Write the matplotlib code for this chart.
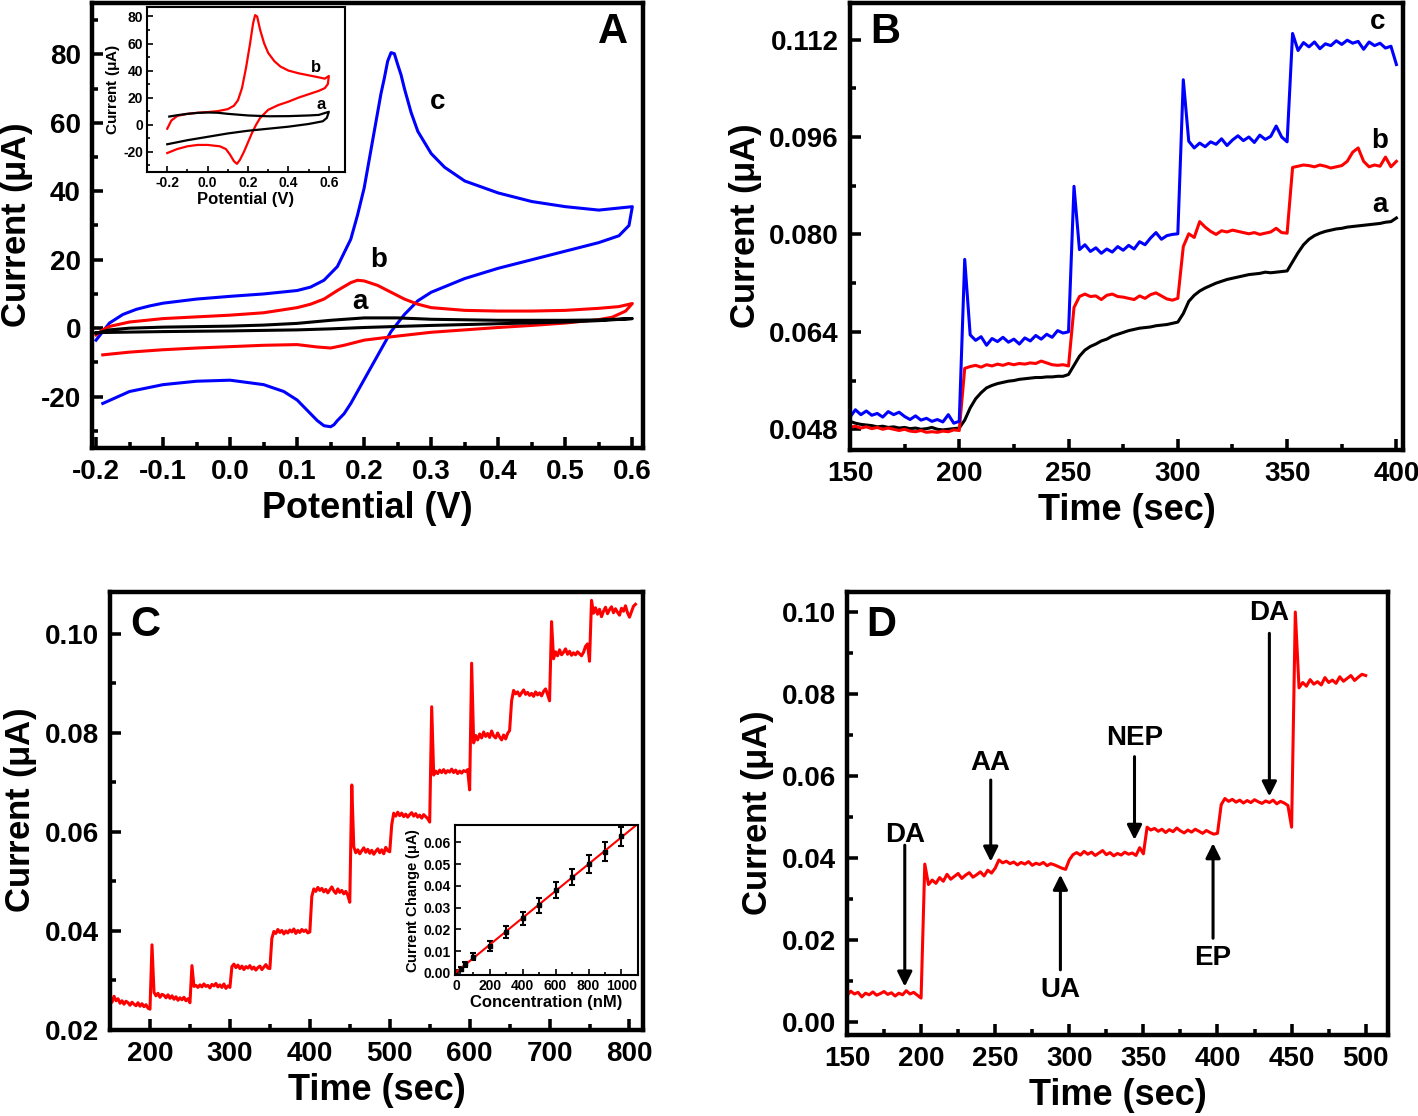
import numpy as np
import matplotlib
matplotlib.use('Agg')
import matplotlib.pyplot as plt
from matplotlib.ticker import MultipleLocator, FormatStrFormatter

plt.rcParams['font.family'] = ['Liberation Sans', 'DejaVu Sans']
plt.rcParams['font.weight'] = 'bold'
plt.rcParams['axes.labelweight'] = 'bold'
plt.rcParams['axes.unicode_minus'] = False
plt.rcParams['mathtext.fontset'] = 'custom'
plt.rcParams['mathtext.rm'] = 'Liberation Sans'

# ---------------- panel A : cyclic voltammograms (uA) ----------------
# c (blue)
c_fwd_E = [-0.2, -0.19, -0.18, -0.16, -0.14, -0.12, -0.1, -0.05, 0.0, 0.05, 0.1, 0.12, 0.14, 0.16, 0.18,
           0.19, 0.2, 0.21, 0.215, 0.22, 0.225, 0.23, 0.235, 0.24, 0.245, 0.25, 0.255, 0.26, 0.265, 0.27,
           0.28, 0.3, 0.32, 0.35, 0.4, 0.45, 0.5, 0.55, 0.6]
c_fwd_I = [-3.5, -1, 1.5, 4, 5.5, 6.5, 7.3, 8.5, 9.3, 10, 11, 12, 14, 18, 26,
           33, 41, 52, 57.5, 63, 68.5, 73, 78, 80.5, 80.2, 77, 74, 70, 66.5, 63,
           57.5, 51, 47, 43, 39.5, 37, 35.5, 34.5, 35.5]
c_rev_E = [0.6, 0.595, 0.58, 0.55, 0.5, 0.45, 0.4, 0.35, 0.3, 0.28, 0.26, 0.24, 0.22, 0.2, 0.18,
           0.17, 0.16, 0.155, 0.15, 0.14, 0.13, 0.12, 0.1, 0.08, 0.05, 0.0, -0.05, -0.1, -0.15, -0.19]
c_rev_I = [35.5, 30, 27, 25, 22.5, 20, 17.5, 14.5, 10.5, 8, 4, -1, -8, -15, -22,
           -25, -27, -28.2, -28.8, -28.5, -27, -25, -21, -18.5, -16.5, -15.2, -15.5, -16.5, -18.5, -22]
# b (red)
b_fwd_E = [-0.2, -0.19, -0.18, -0.15, -0.1, -0.05, 0.0, 0.05, 0.1, 0.12, 0.14, 0.16, 0.18, 0.19,
           0.2, 0.22, 0.24, 0.26, 0.28, 0.3, 0.35, 0.4, 0.45, 0.5, 0.55, 0.58, 0.6]
b_fwd_I = [-2, -0.5, 0.5, 1.8, 2.8, 3.3, 3.8, 4.5, 6, 7, 8.5, 11, 13.3, 14,
           13.8, 12.5, 10.5, 8.5, 7, 6, 5.2, 5, 5, 5.2, 5.8, 6.3, 7.2]
b_rev_E = [0.6, 0.59, 0.57, 0.55, 0.5, 0.45, 0.4, 0.35, 0.3, 0.25, 0.2, 0.17, 0.15, 0.13, 0.1,
           0.05, 0.0, -0.05, -0.1, -0.15, -0.19]
b_rev_I = [7.2, 5, 3.2, 2.5, 1.5, 0.8, 0.2, -0.5, -1.2, -2.3, -3.5, -5, -5.8, -5.5, -4.8,
           -5, -5.4, -5.8, -6.3, -7, -7.8]
# a (black)
a_fwd_E = [-0.2, -0.18, -0.15, -0.1, 0.0, 0.05, 0.1, 0.15, 0.2, 0.25, 0.3, 0.4, 0.5, 0.55, 0.6]
a_fwd_I = [-1.5, -0.5, 0, 0.3, 0.6, 0.9, 1.4, 2.3, 3, 3, 2.6, 2.3, 2.3, 2.4, 2.8]
a_rev_E = [0.6, 0.55, 0.5, 0.4, 0.3, 0.2, 0.15, 0.1, 0.0, -0.1, -0.2]
a_rev_I = [2.8, 2.2, 1.8, 1.3, 0.8, 0.2, -0.2, -0.5, -0.8, -1, -1.3]

# inset of A
ib_fwd_E = [-0.2, -0.18, -0.15, -0.1, -0.05, 0.0, 0.05, 0.1, 0.13, 0.15, 0.17, 0.19, 0.21, 0.225,
            0.235, 0.245, 0.26, 0.28, 0.3, 0.33, 0.36, 0.4, 0.45, 0.5, 0.55, 0.58, 0.6]
ib_fwd_I = [-3, 3, 6.5, 8, 8.8, 9.3, 10, 11.5, 14, 18, 27, 42, 60, 75,
            81, 80, 70, 60, 53, 47, 43, 40, 38, 36.5, 35, 34, 36]
ib_rev_E = [0.6, 0.595, 0.58, 0.55, 0.5, 0.45, 0.4, 0.35, 0.3, 0.26, 0.24, 0.22, 0.2, 0.18, 0.16,
            0.145, 0.13, 0.11, 0.09, 0.06, 0.0, -0.05, -0.1, -0.15, -0.2]
ib_rev_I = [36, 30, 27, 25, 22.5, 20, 17, 14.5, 11, 5, 0, -6, -13, -20, -26,
            -29, -27, -22, -18, -16, -15, -15, -16, -18, -21]
ia_fwd_E = [-0.19, -0.15, -0.1, -0.05, 0.0, 0.05, 0.1, 0.2, 0.3, 0.4, 0.5, 0.55, 0.6]
ia_fwd_I = [6, 7, 8, 8.7, 9, 8.8, 8, 6.8, 6.2, 6.3, 6.8, 7.2, 9.5]
ia_rev_E = [0.6, 0.59, 0.57, 0.5, 0.4, 0.3, 0.2, 0.1, 0.0, -0.1, -0.2]
ia_rev_I = [9.5, 5, 2.5, 0.5, -1.5, -3, -4.5, -6.5, -9, -11.5, -14.5]

# ---------------- panel B : amperometric traces (x1e-3 uA), 2.5 s sampling ----------------
b_time = np.arange(150, 400.1, 2.5)
trace_c = [50.0, 51.2, 50.4, 51.0, 50.3, 50.6, 50.0, 50.9, 50.4, 50.8, 50.1, 49.6, 50.2, 49.5, 49.8, 49.3, 49.6, 49.2, 50.4, 49.0,
           49.3, 75.9, 63.5, 62.6, 63.2, 61.8, 62.9, 62.4, 63.1, 62.3, 62.8, 62.0, 63.0, 62.5, 63.4, 62.8, 63.6, 63.1, 64.2, 63.8,
           64.0, 87.9, 77.5, 78.3, 77.2, 77.8, 76.9, 77.6, 77.1, 78.0, 77.4, 78.2, 77.6, 78.8, 78.3, 79.4, 80.3, 79.2, 79.8, 80.0,
           80.1, 105.4, 95.3, 94.2, 95.0, 94.4, 95.2, 94.8, 95.7, 94.6, 95.5, 96.2, 95.4, 96.0, 95.1, 96.3, 95.6, 96.1, 97.8, 96.0,
           95.2, 113.0, 110.2, 111.5, 110.8, 111.6, 110.5, 111.3, 111.0, 111.8, 111.2, 111.9, 111.4, 111.7, 110.4, 111.6, 111.0, 111.4, 110.6, 110.9,
           107.9]
trace_b = [48.3, 48.5, 48.2, 48.4, 48.1, 48.3, 48.0, 48.2, 48.0, 47.8, 48.0, 47.7, 47.6, 47.8, 47.5, 47.6, 47.5, 47.7, 47.6, 47.9,
           47.8, 58.0, 58.3, 58.5, 58.2, 58.6, 58.4, 58.7, 58.5, 58.8, 58.6, 58.8, 58.7, 58.9, 58.8, 59.2, 58.9, 58.6, 58.5, 58.6,
           58.4, 68.0, 69.8, 70.2, 69.8, 69.9, 69.3, 70.0, 70.2, 69.8, 69.7, 69.5, 69.3, 69.9, 69.5, 70.1, 70.4, 69.9, 69.4, 69.2,
           69.5, 78.0, 80.1, 79.5, 82.1, 81.2, 80.5, 80.0, 80.6, 80.4, 80.7, 80.5, 80.3, 80.1, 80.3, 80.0, 80.2, 80.4, 81.0, 80.3,
           80.2, 91.0, 91.2, 91.4, 91.3, 91.1, 91.4, 91.2, 90.9, 91.1, 91.3, 92.0, 93.5, 94.2, 92.0, 91.1, 91.4, 91.2, 92.7, 91.1,
           92.0]
trace_a = [49.3, 49.0, 48.8, 48.7, 48.6, 48.4, 48.5, 48.3, 48.4, 48.2, 48.3, 48.1, 48.2, 48.0, 48.1, 48.3, 48.0, 47.9, 48.0, 48.1,
           48.2, 49.5, 51.5, 53.0, 54.0, 54.8, 55.2, 55.5, 55.7, 55.9, 56.0, 56.2, 56.3, 56.4, 56.5, 56.5, 56.6, 56.6, 56.7, 56.7,
           57.0, 58.5, 60.0, 61.0, 61.6, 62.0, 62.5, 62.8, 63.3, 63.6, 63.9, 64.2, 64.4, 64.6, 64.7, 64.8, 65.0, 65.1, 65.2, 65.4,
           65.6, 67.0, 69.0, 70.0, 70.7, 71.2, 71.6, 72.0, 72.3, 72.6, 72.8, 73.0, 73.2, 73.4, 73.5, 73.6, 73.8, 73.7, 73.8, 73.9,
           74.0, 75.5, 77.0, 78.3, 79.2, 79.8, 80.2, 80.5, 80.7, 80.9, 81.0, 81.2, 81.3, 81.4, 81.5, 81.6, 81.7, 81.8, 82.0, 82.1,
           82.7]

# ---------------- panel C : successive additions (x1e-3 uA) ----------------
c_time = np.arange(150, 808, 2.5)
c_current = [26.0, 25.6, 26.8, 25.9, 26.3, 25.4, 25.9, 25.2, 25.8, 25.5, 25.0, 25.6, 25.2, 24.9, 25.5, 24.8, 25.3, 24.7, 25.1, 24.4,
             24.2, 37.2, 27.6, 26.9, 27.4, 26.6, 27.2, 27.0, 26.5, 27.1, 26.4, 26.9, 26.2, 26.7, 26.0, 26.5, 26.1, 26.6, 25.9, 26.3,
             25.5, 33.0, 28.8, 29.0, 28.6, 29.1, 28.7, 29.3, 28.8, 29.0, 28.5, 29.2, 28.9, 29.4, 28.7, 29.1, 28.6, 29.3, 28.4, 28.9,
             28.6, 32.8, 33.3, 32.6, 33.1, 32.4, 32.9, 32.2, 32.8, 32.5, 33.0, 32.3, 32.7, 32.1, 32.6, 32.9, 32.2, 32.7, 33.2, 32.5,
             32.4, 38.5, 39.9, 39.5, 40.3, 39.7, 40.1, 39.4, 40.0, 39.6, 40.2, 39.8, 40.4, 39.5, 40.1, 39.7, 40.3, 39.9, 40.2, 39.6,
             39.8, 47.0, 48.5, 48.0, 48.8, 48.2, 48.6, 47.9, 48.4, 47.7, 48.3, 48.9, 48.1, 47.6, 48.5, 47.8, 48.2, 47.5, 48.0, 47.2,
             45.8, 69.5, 57.0, 55.8, 56.4, 55.6, 56.2, 56.8, 55.9, 56.5, 55.7, 56.3, 55.5, 56.1, 56.6, 55.8, 56.4, 55.6, 56.9, 56.2,
             56.0, 61.5, 63.8, 63.2, 64.0, 63.3, 63.8, 63.1, 63.6, 63.0, 63.5, 63.9, 63.2, 63.7, 63.0, 63.4, 62.8, 63.5, 63.1, 62.7,
             62.0, 85.3, 71.5, 72.3, 71.8, 72.5, 72.0, 72.6, 71.9, 72.4, 72.1, 72.7, 72.0, 72.5, 71.8, 72.3, 71.9, 72.4, 72.2, 72.6,
             68.5, 94.1, 78.0, 79.5, 78.6, 79.8, 79.0, 80.2, 79.3, 79.9, 79.1, 80.4, 79.4, 79.0, 80.0, 79.2, 78.6, 79.6, 78.8, 79.9,
             80.5, 86.5, 88.6, 87.9, 88.3, 87.5, 88.1, 88.7, 87.8, 88.2, 87.6, 88.0, 87.4, 88.3, 87.7, 88.1, 87.5, 88.4, 88.9, 87.8,
             86.5, 102.5, 95.0, 96.4, 95.6, 96.8, 95.8, 96.3, 97.0, 95.9, 96.5, 95.7, 96.2, 95.8, 96.4, 96.0, 95.6, 96.3, 97.5, 98.0,
             94.5, 106.8, 104.2, 105.3, 104.0, 105.0, 103.5, 104.6, 105.4, 104.1, 104.9, 105.5, 104.3, 105.1, 104.4, 103.8, 105.2, 104.6, 105.7, 104.3,
             103.4, 104.5, 105.6, 106.0]

# calibration inset
conc_nM = [25, 50, 100, 200, 300, 400, 500, 600, 700, 800, 900, 1000]
delta_I = [0.0019, 0.0039, 0.0075, 0.0124, 0.0189, 0.0251, 0.031, 0.038, 0.0442, 0.05, 0.0558, 0.0628]
delta_err = [0.001, 0.0012, 0.0018, 0.0022, 0.0028, 0.003, 0.0036, 0.0036, 0.0038, 0.004, 0.0045, 0.0045]

# ---------------- panel D : interference test (x1e-3 uA) ----------------
d_time = np.arange(150, 500.1, 2.5)
d_current = [6.4, 7.5, 6.8, 7.2, 6.1, 7.0, 6.6, 7.3, 6.5, 6.9, 7.4, 6.7, 7.1, 6.3, 7.0, 6.6, 7.6, 6.8, 7.2, 6.5,
             5.8, 38.5, 33.5, 34.6, 33.8, 35.2, 34.3, 36.0, 34.8, 35.5, 36.2, 35.0, 35.8, 36.4, 35.3, 35.9, 36.6, 35.6, 37.0, 36.3,
             37.5, 39.5, 38.8, 39.2, 38.6, 39.0, 38.3, 38.9, 38.5, 39.1, 38.2, 38.7, 38.4, 38.9, 38.1, 38.6, 38.3, 37.9, 37.5, 37.2,
             39.5, 40.8, 41.3, 40.7, 41.6, 40.9, 41.4, 40.6, 41.2, 41.8, 40.8, 41.3, 40.5, 41.1, 40.7, 41.4, 40.9, 41.2, 40.6, 42.5,
             41.0, 47.5, 46.8, 47.2, 46.5, 47.0, 46.2, 46.9, 46.4, 47.3, 46.6, 46.1, 46.8, 46.3, 47.0, 46.5, 46.0, 46.7, 46.2, 45.8,
             46.0, 53.0, 54.5, 53.8, 54.3, 53.6, 54.1, 53.4, 54.0, 53.5, 54.2, 53.7, 53.3, 53.9, 53.5, 54.1, 53.2, 53.8, 53.4, 52.8,
             47.5, 100.0, 81.5, 82.8, 81.9, 83.5, 82.4, 83.0, 82.2, 84.0, 82.8, 83.4, 82.6, 84.2, 83.1, 83.8, 84.5, 83.3, 84.1, 84.8,
             84.5]
# analyte labels: name, arrow time, text y, arrow tail y, arrow tip y
d_labels = ['DA', 'AA', 'UA', 'NEP', 'EP', 'DA']
d_label_t = [189, 247, 294, 344, 397, 435]
d_text_y = [0.0456, 0.0631, 0.0078, 0.0692, 0.0155, 0.0997]
d_tail_y = [0.0431, 0.0590, 0.0127, 0.0647, 0.0204, 0.0948]
d_tip_y = [0.0086, 0.0391, 0.0359, 0.0444, 0.0436, 0.0550]

ylab = 'Current $\\mathrm{(\u03bcA)}$'


def style(ax, fs=20, lw=3.2, major=8, minor=4.5, pad=8):
    for s in ax.spines.values():
        s.set_linewidth(lw)
    ax.tick_params(which='both', direction='in', top=False, right=False, width=lw * 0.8)
    ax.tick_params(which='major', length=major, labelsize=fs, pad=pad)
    ax.tick_params(which='minor', length=minor)


fig = plt.figure(figsize=(14.18, 11.16), dpi=100)

# ---- A ----
axA = fig.add_axes([0.0649, 0.5986, 0.3886, 0.3987])
axA.plot(c_fwd_E + c_rev_E, c_fwd_I + c_rev_I, color='#0000ff', lw=2.2)
axA.plot(b_fwd_E + b_rev_E, b_fwd_I + b_rev_I, color='#ff0000', lw=2.2)
axA.plot(a_fwd_E + a_rev_E, a_fwd_I + a_rev_I, color='black', lw=2.2)
axA.set_xlim(-0.206, 0.616)
axA.set_ylim(-35, 95)
axA.xaxis.set_major_locator(MultipleLocator(0.1))
axA.xaxis.set_minor_locator(MultipleLocator(0.05))
axA.xaxis.set_major_formatter(FormatStrFormatter('%.1f'))
axA.yaxis.set_major_locator(MultipleLocator(20))
axA.yaxis.set_minor_locator(MultipleLocator(10))
style(axA)
axA.set_xlabel('Potential (V)', fontsize=26)
axA.set_ylabel(ylab, fontsize=25)
axA.text(0.309, 66, 'c', fontsize=20, fontweight='bold', ha='center', va='center')
axA.text(0.221, 20, 'b', fontsize=20, fontweight='bold', ha='center', va='center')
axA.text(0.194, 7.5, 'a', fontsize=20, fontweight='bold', ha='center', va='center')
axA.text(0.946, 0.935, 'A', transform=axA.transAxes, fontsize=30, fontweight='bold', ha='center', va='center')

inA = fig.add_axes([0.1037, 0.8459, 0.1396, 0.1478])
inA.plot(ib_fwd_E + ib_rev_E, ib_fwd_I + ib_rev_I, color='#ff0000', lw=1.6)
inA.plot(ia_fwd_E + ia_rev_E, ia_fwd_I + ia_rev_I, color='black', lw=1.6)
inA.set_xlim(-0.3, 0.68)
inA.set_ylim(-35, 87)
inA.xaxis.set_major_locator(MultipleLocator(0.2))
inA.xaxis.set_minor_locator(MultipleLocator(0.1))
inA.xaxis.set_major_formatter(FormatStrFormatter('%.1f'))
inA.yaxis.set_major_locator(MultipleLocator(20))
inA.yaxis.set_minor_locator(MultipleLocator(10))
style(inA, fs=10, lw=1.5, major=4, minor=2.5, pad=3)
inA.set_xlabel('Potential (V)', fontsize=12, labelpad=1)
inA.set_ylabel(ylab, fontsize=11, labelpad=1)
inA.text(0.535, 42, 'b', fontsize=12, fontweight='bold', ha='center', va='center')
inA.text(0.56, 14.8, 'a', fontsize=12, fontweight='bold', ha='center', va='center')

# ---- B ----
axB = fig.add_axes([0.5994, 0.5968, 0.39, 0.4005])
axB.plot(b_time, np.array(trace_a) / 1000, color='black', lw=2.2)
axB.plot(b_time, np.array(trace_b) / 1000, color='#ff0000', lw=2.2)
axB.plot(b_time, np.array(trace_c) / 1000, color='#0000ff', lw=2.2)
axB.set_xlim(150, 403)
axB.set_ylim(0.0446, 0.118)
axB.xaxis.set_major_locator(MultipleLocator(50))
axB.xaxis.set_minor_locator(MultipleLocator(25))
axB.yaxis.set_major_locator(MultipleLocator(0.016))
axB.yaxis.set_minor_locator(MultipleLocator(0.008))
axB.yaxis.set_major_formatter(FormatStrFormatter('%.3f'))
style(axB)
axB.set_xlabel('Time (sec)', fontsize=26)
axB.set_ylabel(ylab, fontsize=25)
axB.text(391.5, 0.1148, 'c', fontsize=20, fontweight='bold', ha='center', va='center')
axB.text(392.3, 0.0953, 'b', fontsize=20, fontweight='bold', ha='center', va='center')
axB.text(392.3, 0.0849, 'a', fontsize=20, fontweight='bold', ha='center', va='center')
axB.text(0.063, 0.935, 'B', transform=axB.transAxes, fontsize=30, fontweight='bold', ha='center', va='center')

# ---- C ----
axC = fig.add_axes([0.0776, 0.0771, 0.3759, 0.3925])
axC.plot(c_time, np.array(c_current) / 1000, color='#ff0000', lw=2.2)
axC.set_xlim(150, 817)
axC.set_ylim(0.02, 0.1085)
axC.xaxis.set_major_locator(MultipleLocator(100))
axC.xaxis.set_minor_locator(MultipleLocator(50))
axC.yaxis.set_major_locator(MultipleLocator(0.02))
axC.yaxis.set_minor_locator(MultipleLocator(0.01))
axC.yaxis.set_major_formatter(FormatStrFormatter('%.2f'))
style(axC)
axC.set_xlabel('Time (sec)', fontsize=26)
axC.set_ylabel(ylab, fontsize=25)
axC.text(0.066, 0.925, 'C', transform=axC.transAxes, fontsize=30, fontweight='bold', ha='center', va='center')

inC = fig.add_axes([0.3209, 0.1263, 0.129, 0.1344])
inC.errorbar(conc_nM, delta_I, yerr=delta_err, fmt='s', color='black', ms=2.5, elinewidth=1.5, capsize=2.5, capthick=1.5)
slope, icpt = np.polyfit(conc_nM, delta_I, 1)
fit_x = np.array([0, 1100])
inC.plot(fit_x, slope * fit_x + icpt, color='#ff0000', lw=1.5)
inC.set_xlim(-10, 1100)
inC.set_ylim(-0.001, 0.068)
inC.xaxis.set_major_locator(MultipleLocator(200))
inC.xaxis.set_minor_locator(MultipleLocator(100))
inC.yaxis.set_major_locator(MultipleLocator(0.01))
inC.yaxis.set_major_formatter(FormatStrFormatter('%.2f'))
style(inC, fs=10, lw=1.5, major=4, minor=2.5, pad=3)
inC.set_xlabel('Concentration (nM)', fontsize=12, labelpad=1)
inC.set_ylabel('Current Change $\\mathrm{(\u03bcA)}$', fontsize=10.5, labelpad=1)

# ---- D ----
axD = fig.add_axes([0.5973, 0.0726, 0.3815, 0.397])
axD.plot(d_time, np.array(d_current) / 1000, color='#ff0000', lw=2.2)
axD.set_xlim(150, 515)
axD.set_ylim(-0.0032, 0.1049)
axD.xaxis.set_major_locator(MultipleLocator(50))
axD.xaxis.set_minor_locator(MultipleLocator(25))
axD.yaxis.set_major_locator(MultipleLocator(0.02))
axD.yaxis.set_minor_locator(MultipleLocator(0.01))
axD.yaxis.set_major_formatter(FormatStrFormatter('%.2f'))
style(axD)
axD.set_xlabel('Time (sec)', fontsize=26)
axD.set_ylabel(ylab, fontsize=25)
axD.text(0.064, 0.925, 'D', transform=axD.transAxes, fontsize=30, fontweight='bold', ha='center', va='center')
for name, t, ty, y0, y1 in zip(d_labels, d_label_t, d_text_y, d_tail_y, d_tip_y):
    axD.text(t, ty, name, fontsize=20, fontweight='bold', ha='center', va='center')
    axD.annotate('', xy=(t, y1), xytext=(t, y0),
                 arrowprops=dict(arrowstyle='-|>', color='black', lw=2.2, mutation_scale=22, shrinkA=0, shrinkB=0))

fig.savefig('out.png', dpi=100)
